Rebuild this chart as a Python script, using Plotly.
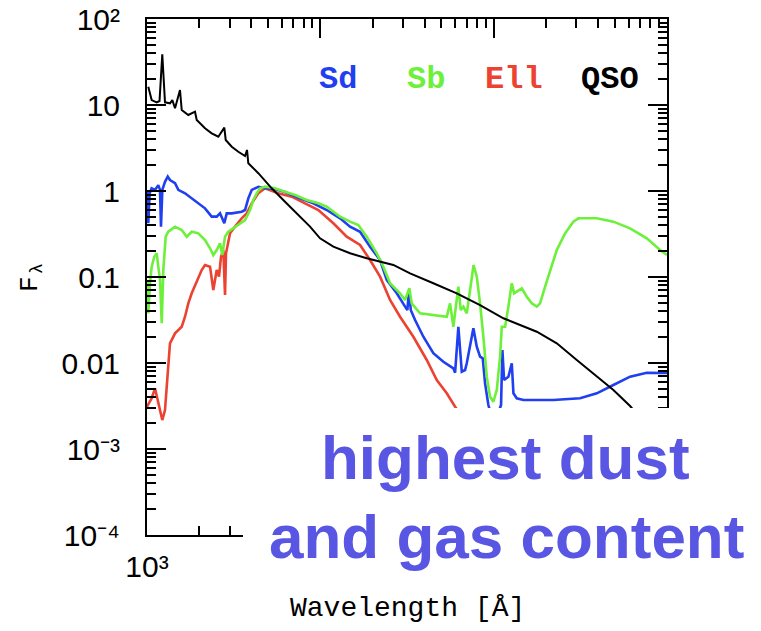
import plotly.graph_objects as go

# ---------------- data (wavelength in Angstrom, F_lambda) -------------
qso_wave = [1017, 1064, 1138, 1181, 1225, 1270, 1357, 1400, 1451, 1550, 1586, 1731, 1892, 1936,
            2161, 2362, 2579, 2793, 2845, 3083, 3364, 3678, 3776, 3842, 4387, 5244, 6256, 7464,
            8721, 9961, 11890, 14840, 18520, 26380, 32930, 44870, 61240, 83450, 113800, 177300,
            231300, 301600, 393600, 490600, 612300, 1000000]
qso_flux = [16.3, 11.4, 10.75, 11.13, 38.9, 10.75, 10.47, 11.4, 9.16, 14.94, 8.75, 7.65, 8.36, 6.69,
            5.36, 4.69, 4.28, 5.45, 3.92, 3.27, 2.86, 2.55, 3.0, 2.10, 1.61, 1.075, 0.751, 0.526,
            0.385, 0.282, 0.225, 0.1887, 0.165, 0.138, 0.1104, 0.0845, 0.0646, 0.0472, 0.0331, 0.0231,
            0.01694, 0.01084, 0.00693, 0.00485, 0.00316, 0.00098]

sd_wave = [1009, 1017, 1036, 1064, 1112, 1162, 1189, 1204, 1226, 1270, 1317, 1357, 1451, 1516,
           1657, 1811, 1977, 2161, 2362, 2525, 2638, 2793, 2884, 3083, 3520, 3678, 3842, 4020,
           4387, 4797, 5477, 6256, 7638, 9113, 10890, 13000, 14840, 16950, 19360, 22110, 24160,
           27600, 30830, 31770, 32500, 33240, 35200, 39300, 44870, 51270, 58560, 59900, 62570,
           65460, 68390, 69950, 76380, 79900, 83450, 86500, 89200, 93200, 100500, 110300, 112300,
           114800, 121600, 127200, 130000, 135900, 148400, 221100, 315100, 393600, 490600, 612300,
           764500, 1000000]
sd_flux = [1.03, 0.421, 0.94, 1.075, 1.03, 1.17, 1.03, 0.385, 1.03, 1.28, 1.47, 1.34, 1.23, 1.03,
           0.94, 0.822, 0.719, 0.629, 0.503, 0.503, 0.55, 0.421, 0.55, 0.55, 0.574, 0.601, 0.822, 1.03,
           1.12, 1.075, 1.055, 0.974, 0.822, 0.719, 0.601, 0.4815, 0.385, 0.336, 0.225, 0.1576, 0.0923,
           0.0646, 0.0452, 0.0413, 0.0706, 0.0413, 0.0316, 0.0202, 0.013, 0.01035, 0.00868, 0.0077, 0.0264,
           0.00792, 0.00829, 0.00992, 0.0253, 0.0155, 0.01184, 0.01134, 0.0058, 0.00325, 0.0019, 0.00325, 0.01416,
           0.00634, 0.00693, 0.00992, 0.00444, 0.00389, 0.00371, 0.00371, 0.00389, 0.00444, 0.00555, 0.00693,
           0.0077, 0.00765]

sb_wave = [1009, 1017, 1041, 1064, 1102, 1138, 1162, 1189, 1216, 1242, 1282, 1327, 1451, 1586,
           1695, 1811, 1977, 2161, 2310, 2413, 2525, 2638, 2720, 2819, 2945, 3147, 3441, 3678, 3930,
           4106, 4296, 4487, 4797, 5477, 6256, 7145, 8345, 9739, 10890, 13000, 14840, 16570, 18520,
           21160, 23100, 25250, 28830, 30830, 32630, 33680, 37610, 44870, 53630, 56030, 58560, 62570,
           64580, 66870, 69950, 73080, 76560, 79900, 83450, 87210, 91240, 95330, 99610, 104200, 108900,
           111400, 116400, 121600, 127200, 131200, 138900, 145300, 155200, 165900, 177300, 185200,
           198000, 211600, 231300, 258200, 288300, 308100, 393600, 490600, 612300, 764500, 912700, 1000000]
sb_flux = [0.0923, 0.0378, 0.0845, 0.1318, 0.172, 0.1887, 0.1318, 0.0923, 0.029, 0.1206, 0.294, 0.336,
           0.385, 0.352, 0.294, 0.336, 0.322, 0.269, 0.2157, 0.180, 0.206, 0.2466, 0.180, 0.294, 0.336,
           0.3684, 0.421, 0.460, 0.601, 0.786, 0.94, 1.075, 1.122, 1.075, 0.982, 0.899, 0.786, 0.719,
           0.657, 0.5025, 0.44, 0.4025, 0.294, 0.1887, 0.1318, 0.0845, 0.0646, 0.054, 0.0739, 0.0494,
           0.0378, 0.0361, 0.0345, 0.0494, 0.0264, 0.0771, 0.0413, 0.0452, 0.0378, 0.0706, 0.138, 0.1008,
           0.0494, 0.0202, 0.00693, 0.00406, 0.00355, 0.00485, 0.01184, 0.0264, 0.0264, 0.0452, 0.0845,
           0.0646, 0.0706, 0.0739, 0.059, 0.0494, 0.0452, 0.0494, 0.0771, 0.1206, 0.206, 0.322, 0.44,
           0.4815, 0.4815, 0.44, 0.3684, 0.282, 0.206, 0.180]

ell_wave = [1000, 1064, 1112, 1162, 1189, 1225, 1270, 1299, 1327, 1357, 1451, 1586, 1657, 1731,
            1811, 1892, 1977, 2068, 2161, 2310, 2413, 2525, 2603, 2673, 2756, 2819, 2857, 3013, 3219,
            3520, 3761, 4020, 4387, 4797, 5722, 6839, 8160, 9739, 11890, 14200, 16950, 19360, 22110,
            25250, 28830, 34410, 41110, 46960, 53630, 59900, 83450]
ell_flux = [0.0031, 0.00389, 0.00508, 0.0034, 0.00284, 0.00217, 0.00284, 0.0053, 0.01184, 0.01694,
            0.02214, 0.0264, 0.0345, 0.0494, 0.0646, 0.0807, 0.0966, 0.1206, 0.138, 0.1318, 0.0706,
            0.1206, 0.1008, 0.172, 0.206, 0.0618, 0.1887, 0.322, 0.385, 0.4815, 0.55, 0.719, 0.94,
            1.075, 0.94, 0.859, 0.719, 0.601, 0.421, 0.294, 0.2355, 0.1576, 0.1008, 0.054, 0.0345,
            0.0202, 0.01084, 0.00634, 0.00444, 0.0031, 0.00127]

for a, b in [(qso_wave, qso_flux), (sd_wave, sd_flux), (sb_wave, sb_flux), (ell_wave, ell_flux)]:
    assert len(a) == len(b)

series_names = ["Sd", "Sb", "Ell", "QSO"]
series_colors = ["#1f3ff0", "#6cf03a", "#ec4232", "#000000"]

x_major_ticks = [1e3, 1e4, 1e5, 1e6]
x_label_vals = [1e3]
x_label_text = ["10³"]
y_tickvals = [1e-4, 1e-3, 1e-2, 1e-1, 1, 10, 100]
y_ticktext = ["10⁻⁴", "10⁻³", "0.01", "0.1", "1", "10", "10²"]

note_lines = ["highest dust", "and gas content"]

# ---------------- figure ----------------
fig = go.Figure()
fig.add_trace(go.Scatter(x=ell_wave, y=ell_flux, mode="lines",
                         line=dict(color=series_colors[2], width=2.6), name="Ell"))
fig.add_trace(go.Scatter(x=sd_wave, y=sd_flux, mode="lines",
                         line=dict(color=series_colors[0], width=2.6), name="Sd"))
fig.add_trace(go.Scatter(x=sb_wave, y=sb_flux, mode="lines",
                         line=dict(color=series_colors[1], width=2.6), name="Sb"))
fig.add_trace(go.Scatter(x=qso_wave, y=qso_flux, mode="lines",
                         line=dict(color=series_colors[3], width=2), name="QSO"))
# empty trace that carries the overlay axis holding the single visible x label
fig.add_trace(go.Scatter(x=[], y=[], xaxis="x2", yaxis="y", showlegend=False, hoverinfo="skip"))

tickfont = dict(family="Liberation Sans, Arial, sans-serif", size=30, color="black")
common = dict(type="log", ticks="inside", ticklen=19, tickwidth=2, tickcolor="black",
              showline=True, linewidth=2, linecolor="black", mirror="ticks", automargin=False,
              showgrid=False, zeroline=False, tickmode="array",
              minor=dict(ticks="inside", ticklen=9, tickwidth=2, tickcolor="black",
                         dtick="D1", showgrid=False))

fig.update_layout(
    xaxis=dict(range=[3, 6], tickvals=x_major_ticks, showticklabels=False, **common),
    yaxis=dict(range=[-4, 2], tickvals=y_tickvals, ticktext=y_ticktext, tickfont=tickfont,
               ticklabelstandoff=19, ticklabeloverflow="allow", **common),
    xaxis2=dict(type="log", range=[3, 6], overlaying="x", anchor="y", side="bottom",
                tickmode="array", tickvals=x_label_vals, ticktext=x_label_text, ticks="",
                showline=False, showgrid=False, zeroline=False, tickfont=tickfont,
                automargin=False, ticklabelstandoff=11, ticklabeloverflow="allow"),
)

# white panel that hides the lower right corner of the chart
fig.add_shape(type="rect", xref="paper", yref="paper", x0=0.1846, x1=1.2, y0=-0.095, y1=0.246,
              fillcolor="white", line=dict(width=0), layer="above")

mono = "Liberation Mono, Courier New, monospace"
legend_x = [0.367, 0.5365, 0.706, 0.890]
for name, col, xx in zip(series_names, series_colors, legend_x):
    fig.add_annotation(text=name, x=xx, y=0.882, xref="paper", yref="paper",
                       showarrow=False, xanchor="center", yanchor="middle",
                       font=dict(family=mono, size=32, color=col, weight="bold"))

# y title F with a lambda subscript (rotated)
fig.add_annotation(text="F", x=-0.225, y=0.4864, xref="paper", yref="paper",
                   showarrow=False, textangle=-90, xanchor="center", yanchor="middle",
                   font=dict(family=mono, size=26, color="black"))
fig.add_annotation(text="λ", x=-0.2115, y=0.5155, xref="paper", yref="paper",
                   showarrow=False, textangle=-90, xanchor="center", yanchor="middle",
                   font=dict(family=mono, size=18, color="black"))
fig.add_annotation(text="Wavelength [Å]", x=0.5, y=-0.1415, xref="paper", yref="paper",
                   showarrow=False, xanchor="center", yanchor="middle",
                   font=dict(family=mono, size=28, color="black"))

note_font = dict(family="Liberation Sans, Arial, sans-serif", size=62, color="#5856e2",
                 weight="bold")
fig.add_annotation(text=note_lines[0], x=0.6885, y=0.150, xref="paper", yref="paper",
                   showarrow=False, xanchor="center", yanchor="middle", font=note_font)
fig.add_annotation(text=note_lines[1], x=0.6923, y=-0.002, xref="paper", yref="paper",
                   showarrow=False, xanchor="center", yanchor="middle", font=note_font)

fig.update_layout(width=761, height=631, margin=dict(l=147, r=94, t=19, b=96),
                  plot_bgcolor="white", paper_bgcolor="white", showlegend=False)

# remove the default 8 px page margin so the figure fills the window exactly
fig.write_html("out.html", config={"displayModeBar": False},
               post_script="document.body.style.margin='0px';")
